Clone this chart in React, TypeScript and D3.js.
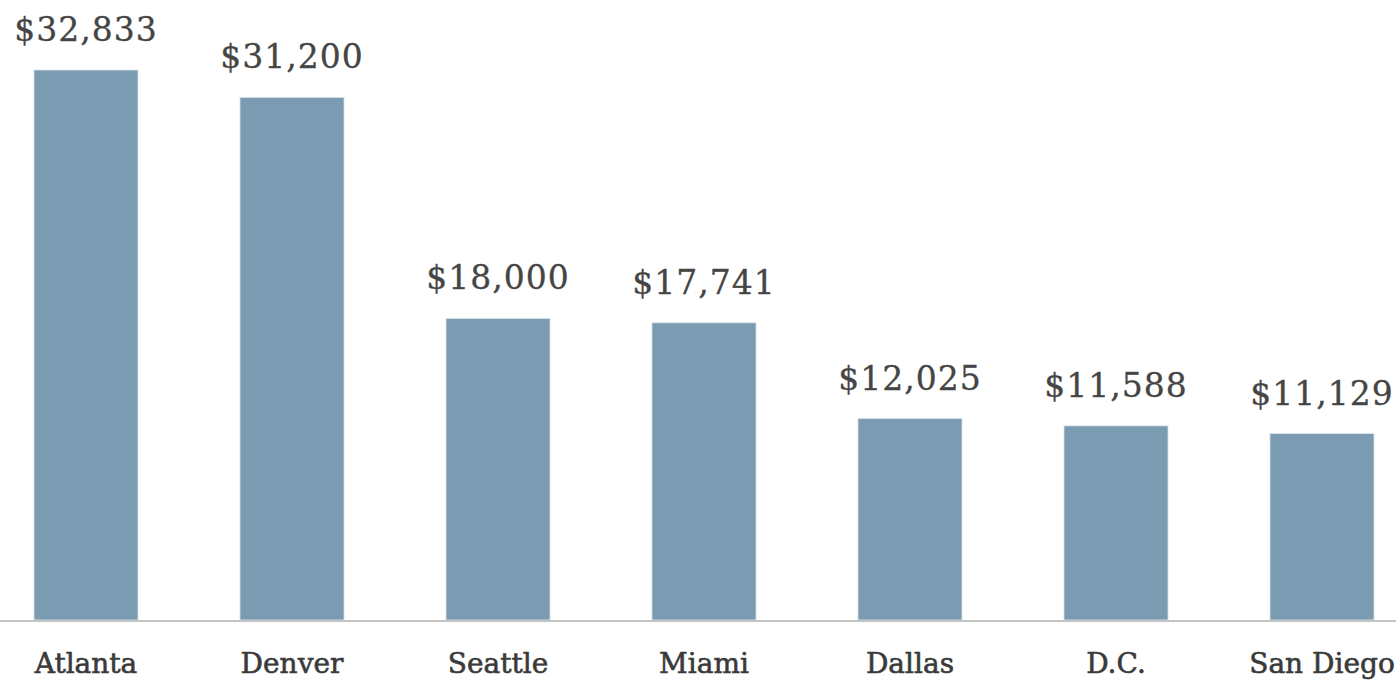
import React from "react";
import * as d3 from "d3";

const cities: string[] = ["Atlanta", "Denver", "Seattle", "Miami", "Dallas", "D.C.", "San Diego"];
const values: number[] = [32833, 31200, 18000, 17741, 12025, 11588, 11129];

const W = 1396;
const H = 683;
const BASE = 620;
const TOP = 70;

export default function App() {
  const x = d3
    .scaleBand<string>()
    .domain(cities)
    .range([0, 1408])
    .paddingInner(0.495)
    .paddingOuter(0.165);
  const y = d3.scaleLinear().domain([0, d3.max(values) as number]).range([BASE, TOP]);
  const fmt = (v: number) => "$" + d3.format(",")(v);

  return (
    <div style={{ position: "absolute", left: 0, top: 0 }}>
      <svg width={W} height={H} style={{ display: "block", background: "#fff" }}>
        {cities.map((c, i) => (
          <rect
            key={c}
            x={x(c)}
            y={y(values[i])}
            width={x.bandwidth()}
            height={BASE - y(values[i])}
            fill="#7b9bb3"
            stroke="#dbe4eb"
            strokeWidth={0.8}
          />
        ))}
        <line x1={0} x2={W} y1={BASE + 1} y2={BASE + 1} stroke="#c4c4c4" strokeWidth={2} />
        {cities.map((c, i) => (
          <text
            key={"v" + c}
            x={(x(c) as number) + x.bandwidth() / 2}
            y={y(values[i]) - 29}
            textAnchor="middle"
            fontFamily="'DejaVu Serif', serif"
            fontSize={33}
            letterSpacing={1}
            fill="#454545"
            stroke="#454545"
            strokeWidth={0.3}
          >
            {fmt(values[i])}
          </text>
        ))}
        {cities.map((c) => (
          <text
            key={"c" + c}
            x={(x(c) as number) + x.bandwidth() / 2}
            y={673}
            textAnchor="middle"
            fontFamily="'DejaVu Serif', serif"
            fontSize={28}
            fill="#3a3a3a"
            stroke="#3a3a3a"
            strokeWidth={0.6}
          >
            {c}
          </text>
        ))}
      </svg>
    </div>
  );
}
